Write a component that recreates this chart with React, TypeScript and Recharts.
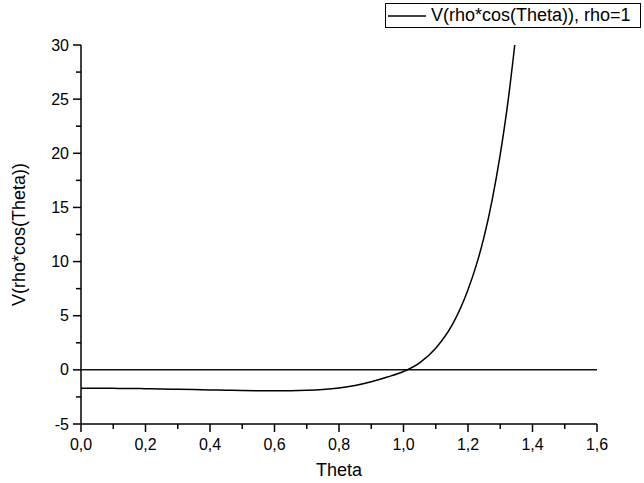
import { Line, LineChart, ReferenceLine, XAxis, YAxis } from 'recharts';

const FONT = "'Liberation Sans', Arial, sans-serif";
const INK = '#000';

// curve
const THETA = [0, 0.05, 0.1, 0.15, 0.2, 0.25, 0.3, 0.35, 0.4, 0.45, 0.5, 0.55, 0.6, 0.65, 0.7, 0.75, 0.8, 0.85, 0.9, 0.95, 1.0, 1.05, 1.1, 1.15, 1.2, 1.225, 1.25, 1.275, 1.3, 1.325, 1.345];
const V = [-1.7, -1.7, -1.71, -1.72, -1.74, -1.76, -1.79, -1.82, -1.85, -1.88, -1.91, -1.93, -1.94, -1.93, -1.89, -1.81, -1.67, -1.44, -1.1, -0.66, -0.15, 0.65, 2.0, 4.1, 7.4, 9.6, 12.3, 15.7, 19.9, 25.0, 30];

const X_TICKS = [0, 0.1, 0.2, 0.3, 0.4, 0.5, 0.6, 0.7, 0.8, 0.9, 1.0, 1.1, 1.2, 1.3, 1.4, 1.5, 1.6];
const Y_TICKS = [-5, -2.5, 0, 2.5, 5, 7.5, 10, 12.5, 15, 17.5, 20, 22.5, 25, 27.5, 30];

const SERIES_NAME = 'V(rho*cos(Theta)), rho=1';

const data = THETA.map((t, i) => ({ theta: t, v: V[i] }));

function XTick({ x, y, payload }: any) {
  const val = payload.value as number;
  const major = Math.round(val * 10) % 2 === 0;
  return (
    <g>
      <line x1={x} x2={x} y1={y} y2={y + (major ? 8 : 5)} stroke={INK} strokeWidth={1.5} />
      {major && (
        <text x={x} y={y + 26} textAnchor="middle" fontSize={16} fontFamily={FONT} fill={INK}>
          {val.toFixed(1).replace('.', ',')}
        </text>
      )}
    </g>
  );
}

function YTick({ x, y, payload }: any) {
  const val = payload.value as number;
  const major = val % 5 === 0;
  return (
    <g>
      <line x1={x - (major ? 8 : 5)} x2={x} y1={y} y2={y} stroke={INK} strokeWidth={1.5} />
      {major && (
        <text x={x - 12} y={y} dy="0.35em" textAnchor="end" fontSize={16} fontFamily={FONT} fill={INK}>
          {val}
        </text>
      )}
    </g>
  );
}

function LegendBox() {
  return (
    <div
      style={{
        position: 'absolute',
        left: 385,
        top: 3,
        border: '1px solid #000',
        width: 254,
        height: 23,
        display: 'flex',
        alignItems: 'center',
        background: '#fff',
        fontFamily: FONT,
        fontSize: 18,
        color: INK,
        whiteSpace: 'nowrap',
        overflow: 'hidden',
      }}
    >
      <svg width={43} height={10} style={{ marginLeft: 2, flex: 'none' }}>
        <line x1={0} x2={38} y1={5} y2={5} stroke={INK} strokeWidth={1.5} />
      </svg>
      <span>{SERIES_NAME}</span>
    </div>
  );
}

export default function App() {
  return (
    <div style={{ position: 'absolute', left: 0, top: 0, width: 644, height: 483, background: '#fff' }}>
      <LineChart width={644} height={483} data={data} margin={{ top: 45, right: 47, left: 0, bottom: 0 }}>
        <XAxis
          dataKey="theta"
          type="number"
          domain={[0, 1.6]}
          ticks={X_TICKS}
          interval={0}
          tick={<XTick />}
          tickLine={false}
          tickSize={0}
          tickMargin={0}
          height={59}
          axisLine={{ stroke: INK, strokeWidth: 1.5 }}
          label={{ value: 'Theta', position: 'insideBottom', offset: 7, fontSize: 18, fontFamily: FONT, fill: INK }}
        />
        <YAxis
          type="number"
          domain={[-5, 30]}
          ticks={Y_TICKS}
          interval={0}
          tick={<YTick />}
          tickLine={false}
          tickSize={0}
          tickMargin={0}
          width={81}
          axisLine={{ stroke: INK, strokeWidth: 1.5 }}
          label={{
            value: 'V(rho*cos(Theta))',
            angle: -90,
            position: 'insideLeft',
            offset: 19,
            textAnchor: 'middle',
            fontSize: 18,
            fontFamily: FONT,
            fill: INK,
          }}
        />
        <ReferenceLine y={0} stroke="#111" strokeWidth={1.5} />
        <Line
          type="monotone"
          dataKey="v"
          name={SERIES_NAME}
          stroke={INK}
          strokeWidth={1.5}
          dot={false}
          isAnimationActive={false}
        />
      </LineChart>
      <LegendBox />
    </div>
  );
}
